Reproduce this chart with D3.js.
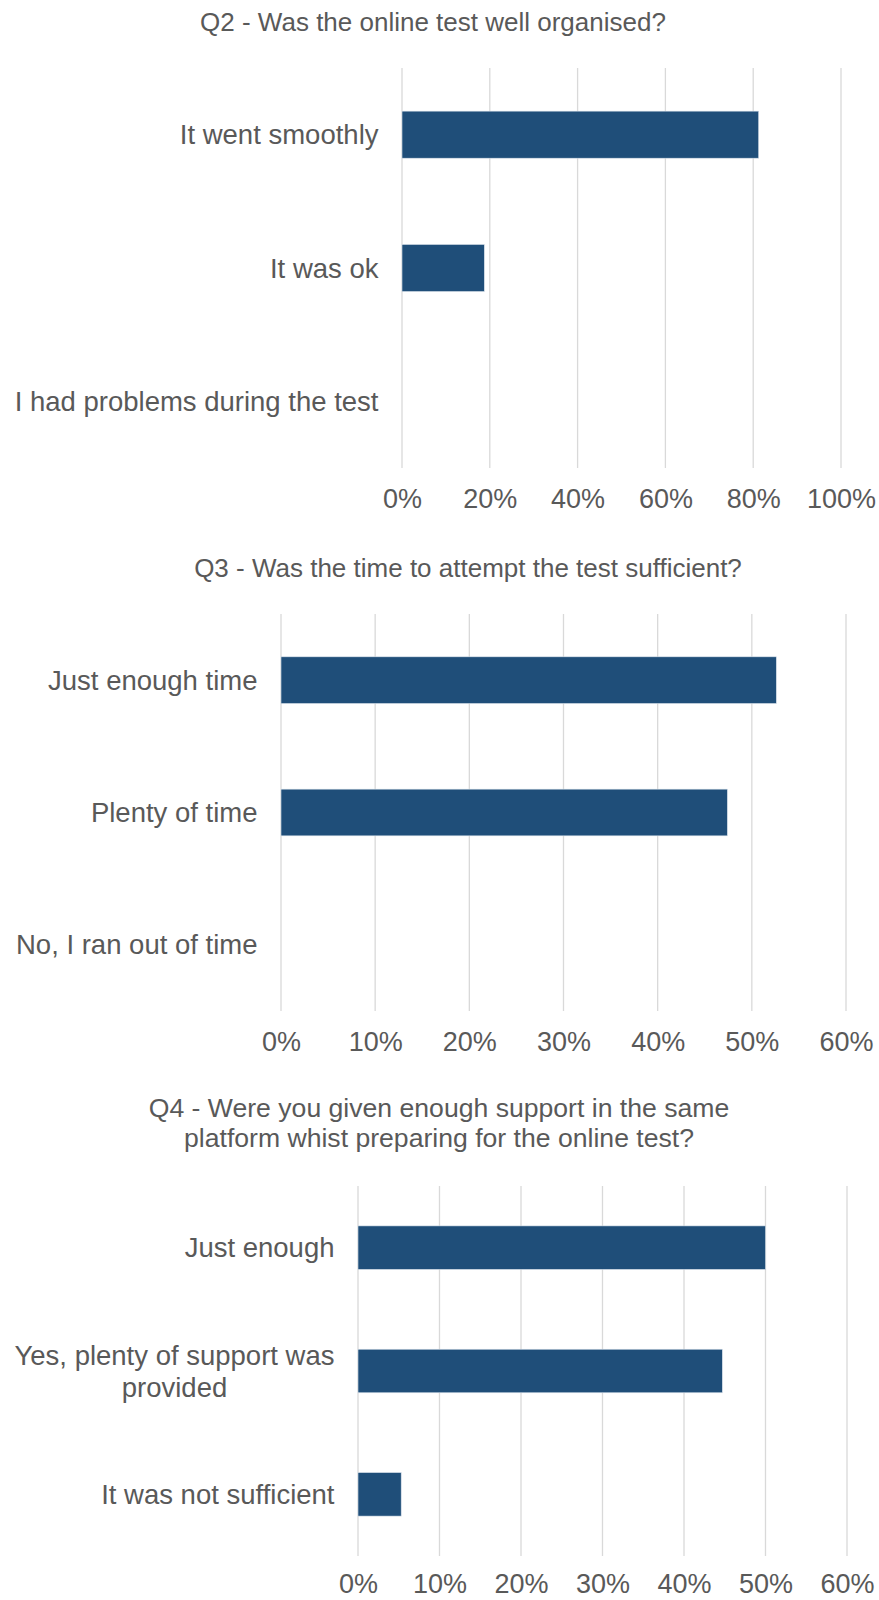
<!DOCTYPE html>
<html>
<head>
<meta charset="utf-8">
<script src="https://cdn.jsdelivr.net/npm/d3@7"></script>
<style>
  html, body { margin: 0; padding: 0; background: #fff; }
  svg { display: block; }
</style>
</head>
<body>
<svg id="chart" width="879" height="1600"></svg>
<script>
// Survey results
const q2Title = ["Q2 - Was the online test well organised?"];
const q2Categories = ["It went smoothly", "It was ok", "I had problems during the test"];
const q2Values = [0.8125, 0.1875, 0];
const q2Ticks = [0, 0.2, 0.4, 0.6, 0.8, 1.0];

const q3Title = ["Q3 - Was the time to attempt the test sufficient?"];
const q3Categories = ["Just enough time", "Plenty of time", "No, I ran out of time"];
const q3Values = [0.526, 0.474, 0];
const q3Ticks = [0, 0.1, 0.2, 0.3, 0.4, 0.5, 0.6];

const q4Title = ["Q4 - Were you given enough support in the same", "platform whist preparing for the online test?"];
const q4Categories = ["Just enough", "Yes, plenty of support was provided", "It was not sufficient"];
const q4Values = [0.5, 0.447, 0.053];
const q4Ticks = [0, 0.1, 0.2, 0.3, 0.4, 0.5, 0.6];

const svg = d3.select('#chart');
const font = '"Liberation Sans", Arial, sans-serif';
const textColor = "#595959";
const barColor = "#1f4e79";
const gridColor = "#d9d9d9";

// plot boxes for each panel
const panels = [
    { title: q2Title, cats: q2Categories, vals: q2Values, ticks: q2Ticks,
      x0: 402, x1: 841, y0: 68, y1: 468, titleX: 433, titleY: 22, titleSize: 26, wrap: 420, tickGap: 31 },
    { title: q3Title, cats: q3Categories, vals: q3Values, ticks: q3Ticks,
      x0: 281, x1: 846, y0: 614, y1: 1011, titleX: 468, titleY: 568, titleSize: 26, wrap: 300, tickGap: 31 },
    { title: q4Title, cats: q4Categories, vals: q4Values, ticks: q4Ticks,
      x0: 358, x1: 847, y0: 1186, y1: 1556, titleX: 439, titleY: 1108, titleSize: 26.6, wrap: 340, tickGap: 28 }
];

panels.forEach(drawPanel);

function drawPanel(p) {
    const g = svg.append("g");
    const maxV = p.ticks[p.ticks.length - 1];

    const x = d3.scaleLinear().domain([0, maxV]).range([p.x0, p.x1]);
    const y = d3.scaleBand().domain(p.cats).range([p.y0, p.y1]);
    const barH = y.bandwidth() * 0.353;

    // title
    g.append("text")
        .attr("x", p.titleX)
        .attr("text-anchor", "middle")
        .attr("font-family", font)
        .attr("font-size", p.titleSize + "px")
        .attr("fill", textColor)
        .selectAll("tspan")
        .data(p.title)
        .enter().append("tspan")
        .attr("x", p.titleX)
        .attr("y", (d, i) => p.titleY + i * 30)
        .attr("dy", "0.35em")
        .text(d => d);

    // vertical gridlines
    g.append("g")
        .selectAll("line")
        .data(p.ticks)
        .enter().append("line")
        .attr("x1", d => x(d))
        .attr("x2", d => x(d))
        .attr("y1", p.y0)
        .attr("y2", p.y1)
        .attr("stroke", gridColor)
        .attr("stroke-width", 1.3);

    // bars
    g.append("g")
        .selectAll("rect")
        .data(p.vals)
        .enter().append("rect")
        .attr("x", x(0))
        .attr("y", (d, i) => y(p.cats[i]) + (y.bandwidth() - barH) / 2)
        .attr("width", d => x(d) - x(0))
        .attr("height", barH)
        .attr("fill", barColor)
        .attr("stroke", d => d > 0 ? "#dbe3ec" : "none")
        .attr("stroke-width", 0.6);

    // x axis labels
    const xAxis = d3.axisBottom(x)
        .tickValues(p.ticks)
        .tickFormat(d3.format(".0%"))
        .tickSize(0)
        .tickPadding(0);
    const ax = g.append("g")
        .attr("transform", `translate(0,${p.y1 + p.tickGap})`)
        .call(xAxis);
    ax.select(".domain").remove();
    ax.selectAll("text")
        .attr("dy", "0.35em")
        .attr("y", 0)
        .attr("font-family", font)
        .attr("font-size", "27px")
        .attr("fill", textColor);

    // category labels, wrapped and centred as a block right of the axis gap
    const labels = g.append("g")
        .selectAll("text")
        .data(p.cats)
        .enter().append("text")
        .attr("font-family", font)
        .attr("font-size", "27.5px")
        .attr("fill", textColor)
        .attr("text-anchor", "middle");

    labels.each(function (d) {
        const t = d3.select(this);
        const words = d.split(" ");
        const lines = [];
        let line = [];
        const probe = t.append("tspan");
        words.forEach(w => {
            line.push(w);
            probe.text(line.join(" "));
            if (probe.node().getComputedTextLength() > p.wrap && line.length > 1) {
                line.pop();
                lines.push(line.join(" "));
                line = [w];
            }
        });
        lines.push(line.join(" "));
        probe.remove();

        // block width = widest line
        let widest = 0;
        const spans = lines.map(l => {
            const s = t.append("tspan").text(l);
            widest = Math.max(widest, s.node().getComputedTextLength());
            return s;
        });
        const right = p.x0 - 23.5;
        const cx = right - widest / 2;
        const cy = y(d) + y.bandwidth() / 2;
        const lh = 32;
        spans.forEach((s, i) => {
            s.attr("x", cx)
             .attr("y", cy + (i - (lines.length - 1) / 2) * lh)
             .attr("dy", "0.35em");
        });
    });
}
</script>
</body>
</html>
